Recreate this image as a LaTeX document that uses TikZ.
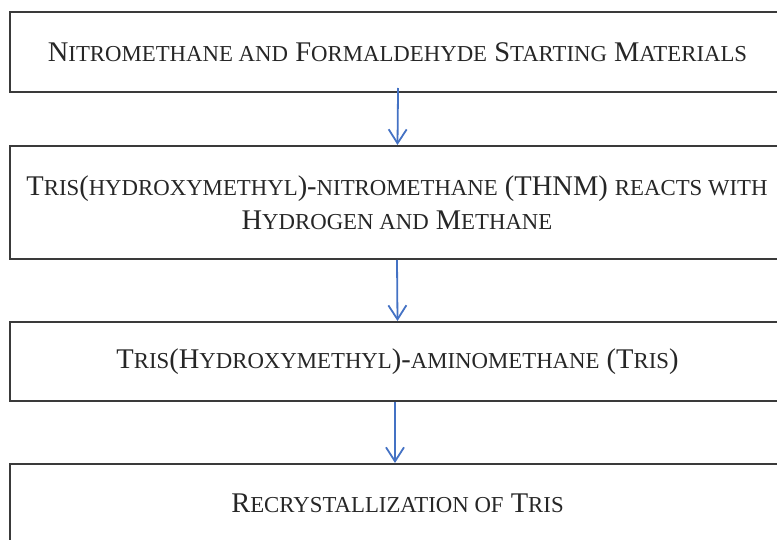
\documentclass[tikz,border=0pt]{standalone}
\usepackage{fontspec}
\setmainfont{Liberation Serif}
\usetikzlibrary{arrows.meta}
\definecolor{boxline}{HTML}{3A3A3A}
\definecolor{arrowblue}{HTML}{4472C4}
\newcommand\sm[1]{{\fontsize{22.8}{34}\selectfont #1}}
\tikzset{
  stepbox/.style={draw=boxline, line width=2pt, rectangle, minimum width=775pt,
    align=center, inner sep=0pt, font=\fontsize{28.5}{34}\selectfont, text=black!85},
  flowarrow/.style={draw=arrowblue, line width=1.8pt,
    -{Straight Barb[length=14pt,width=18pt,line width=1.8pt]}}
}
\begin{document}
\begin{tikzpicture}[x=1pt,y=-1pt]
\useasboundingbox (0,0) rectangle (777,540);
\clip (0,0) rectangle (777,540);
\node[stepbox, minimum height=80pt] (b1) at (397.5,52)
  {N\sm{ITROMETHANE AND} F\sm{ORMALDEHYDE} S\sm{TARTING} M\sm{ATERIALS}};
\node[stepbox, minimum height=113pt] (b2) at (397,202.5)
  {T\sm{RIS}(\sm{HYDROXYMETHYL})-\sm{NITROMETHANE} (THNM) \sm{REACTS WITH}\\
   H\sm{YDROGEN AND} M\sm{ETHANE}};
\node[stepbox, minimum height=79pt] (b3) at (397.5,361.5)
  {T\sm{RIS}(H\sm{YDROXYMETHYL})-\sm{AMINOMETHANE} (T\sm{RIS})};
\node[stepbox, minimum height=78pt] (b4) at (397.5,503)
  {R\sm{ECRYSTALLIZATION OF} T\sm{RIS}};
\draw[flowarrow, shorten <=-5pt] ([xshift=0.5pt]b1.south) -- ([xshift=0.5pt]b2.north);
\draw[flowarrow] ([xshift=0pt]b2.south) -- ([xshift=0pt]b3.north);
\draw[flowarrow] ([xshift=-2.5pt]b3.south) -- ([xshift=-2.5pt]b4.north);
\end{tikzpicture}
\end{document}
